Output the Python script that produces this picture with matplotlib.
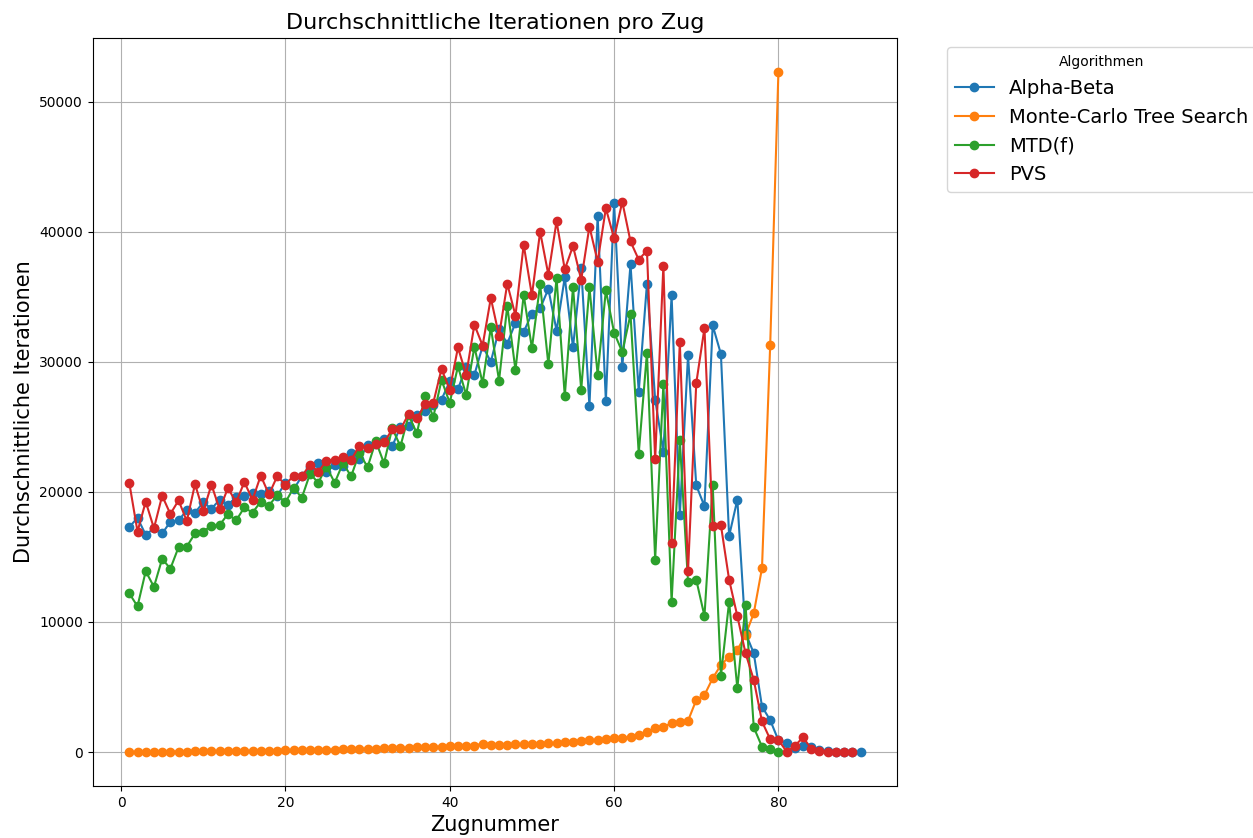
import numpy as np
import matplotlib
matplotlib.use("Agg")
import matplotlib.pyplot as plt

# Zugnummern
zuege_ab = list(range(1, 91))
zuege_mcts = list(range(1, 81))
zuege_mtdf = list(range(1, 81))
zuege_pvs = list(range(1, 90))

alpha_beta = [
    17300, 18000, 16700, 17200, 16800, 17700, 17800, 18600, 18400, 19200,
    18700, 19400, 19000, 19600, 19700, 19900, 19800, 20100, 19700, 20700,
    20200, 21200, 21900, 22200, 21500, 22100, 22000, 23000, 22500, 23600,
    23700, 24100, 23500, 25000, 25100, 25900, 26200, 26700, 27100, 28500,
    27900, 29600, 29000, 31200, 30000, 32500, 31400, 33000, 32300, 33700,
    34100, 35600, 32400, 36500, 31100, 37200, 26600, 41200, 27000, 42200,
    29600, 37500, 27700, 36000, 27100, 23100, 35100, 18200, 30500, 20500,
    18900, 32800, 30600, 16600, 19400, 9150, 7600, 3500, 2450, 900,
    720, 300, 500, 400, 150, 50, 30, 20, 10, 0,
]

mcts = [
    0, 10, 20, 20, 30, 30, 40, 40, 50, 50,
    60, 60, 70, 70, 80, 90, 100, 110, 110, 120,
    130, 140, 150, 160, 180, 190, 200, 220, 240, 250,
    270, 280, 300, 320, 340, 350, 370, 390, 410, 430,
    450, 470, 500, 650, 520, 540, 560, 580, 600, 620,
    650, 680, 700, 750, 800, 850, 900, 950, 1000, 1050,
    1050, 1180, 1310, 1560, 1820, 1950, 2210, 2330, 2400, 4000,
    4380, 5670, 6690, 7330, 7850, 9000, 10670, 14130, 31300, 52300,
]

mtdf = [
    12200, 11200, 13900, 12700, 14850, 14100, 15750, 15800, 16800, 16950,
    17400, 17450, 18300, 17800, 18800, 18400, 19250, 18950, 19750, 19200,
    20300, 19550, 21400, 20700, 21950, 20700, 22200, 21200, 23000, 21900,
    23900, 22200, 24900, 23500, 25900, 24500, 27400, 25750, 28600, 26850,
    29650, 27450, 31150, 28350, 32650, 28550, 34300, 29350, 35150, 31050,
    35950, 29800, 36450, 27350, 35750, 27850, 35750, 29000, 35500, 32250,
    30750, 33650, 22950, 30700, 14800, 28300, 11550, 23950, 13050, 13250,
    10450, 20550, 5850, 11550, 4900, 11300, 1900, 410, 220, 20,
]

pvs = [
    20700, 16950, 19250, 17200, 19700, 18300, 19350, 17750, 20600, 18500,
    20550, 18650, 20300, 19200, 20750, 19400, 21250, 19800, 21200, 20550,
    21250, 21200, 22100, 21550, 22400, 22450, 22650, 22450, 23550, 23350,
    23700, 23800, 24800, 24800, 26000, 25650, 26750, 26850, 29450, 27850,
    31100, 29000, 32850, 31250, 34900, 32000, 36000, 33550, 39000, 35100,
    40000, 36700, 40800, 37100, 38900, 36300, 40400, 37700, 41800, 39500,
    42300, 39250, 37850, 38550, 22500, 37400, 16100, 31500, 13900, 28350,
    32600, 17350, 17450, 13250, 10450, 7600, 5550, 2350, 980, 930,
    30, 480, 1130, 250, 80, 20, 10, 10, 0,
]

fig, ax = plt.subplots(figsize=(12.53, 8.38), dpi=100)
fig.subplots_adjust(left=0.074, right=0.716, top=0.955, bottom=0.062)

ax.plot(zuege_ab, alpha_beta, marker="o", label="Alpha-Beta")
ax.plot(zuege_mcts, mcts, marker="o", label="Monte-Carlo Tree Search")
ax.plot(zuege_mtdf, mtdf, marker="o", label="MTD(f)")
ax.plot(zuege_pvs, pvs, marker="o", label="PVS")

ax.set_title("Durchschnittliche Iterationen pro Zug", fontsize=16)
ax.set_xlabel("Zugnummer", fontsize=15)
ax.set_ylabel("Durchschnittliche Iterationen", fontsize=15)
ax.grid(True)
ax.legend(title="Algorithmen", fontsize=14, bbox_to_anchor=(1.05, 1), loc="upper left")

plt.savefig("out.png", dpi=100)
